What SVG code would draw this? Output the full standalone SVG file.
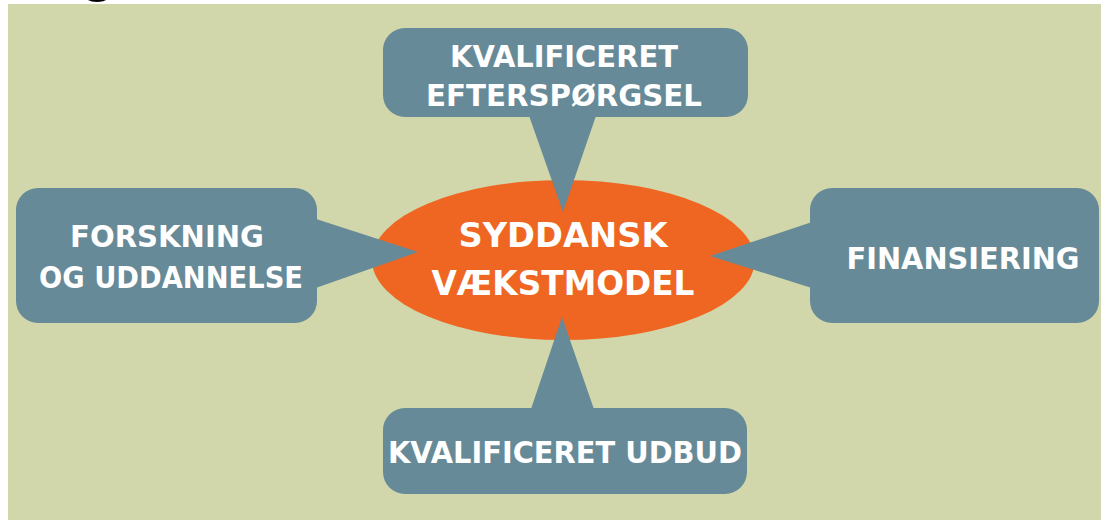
<svg xmlns="http://www.w3.org/2000/svg" width="1101" height="520" viewBox="0 0 1101 520">
<style>
.box{fill:#678a98}
.lbl{fill:#ffffff;font-family:"DejaVu Sans","Liberation Sans",sans-serif;font-weight:bold;font-size:31px;text-anchor:middle}
.big{font-size:33px}
</style>
<rect x="0" y="0" width="1101" height="520" fill="#ffffff"/>
<rect x="8" y="4" width="1093" height="516" fill="#d1d7aa"/>
<text x="80" y="-10" font-family="Liberation Sans, sans-serif" font-weight="bold" font-size="58" fill="#000000">g</text>
<g id="center">
<ellipse cx="563.5" cy="260" rx="191.5" ry="80" fill="#ef6623"/>
<text class="lbl big" x="563" y="247" textLength="209" lengthAdjust="spacingAndGlyphs">SYDDANSK</text>
<text class="lbl big" x="563" y="295" textLength="263" lengthAdjust="spacingAndGlyphs">VÆKSTMODEL</text>
</g>
<g id="connectors">
<polygon class="box" points="527,110 598,110 563,212"/>
<polygon class="box" points="529,415 596,415 562,317"/>
<polygon class="box" points="310,217 310,290 418,252"/>
<polygon class="box" points="818,220 818,290 710,256"/>
</g>
<g id="node-top">
<rect class="box" x="383" y="28" width="365" height="89" rx="22"/>
<text class="lbl" x="564" y="67" textLength="228" lengthAdjust="spacingAndGlyphs">KVALIFICERET</text>
<text class="lbl" x="564" y="106" textLength="276" lengthAdjust="spacingAndGlyphs">EFTERSPØRGSEL</text>
</g>
<g id="node-left">
<rect class="box" x="16" y="188" width="301" height="135" rx="22"/>
<text class="lbl" x="167" y="247" textLength="194" lengthAdjust="spacingAndGlyphs">FORSKNING</text>
<text class="lbl" x="171" y="288" textLength="264" lengthAdjust="spacingAndGlyphs">OG UDDANNELSE</text>
</g>
<g id="node-right">
<rect class="box" x="810" y="188" width="289" height="135" rx="22"/>
<text class="lbl" x="963" y="269" textLength="233" lengthAdjust="spacingAndGlyphs">FINANSIERING</text>
</g>
<g id="node-bottom">
<rect class="box" x="383" y="408" width="364" height="86" rx="22"/>
<text class="lbl" x="565" y="463" textLength="354" lengthAdjust="spacingAndGlyphs">KVALIFICERET UDBUD</text>
</g>
</svg>
